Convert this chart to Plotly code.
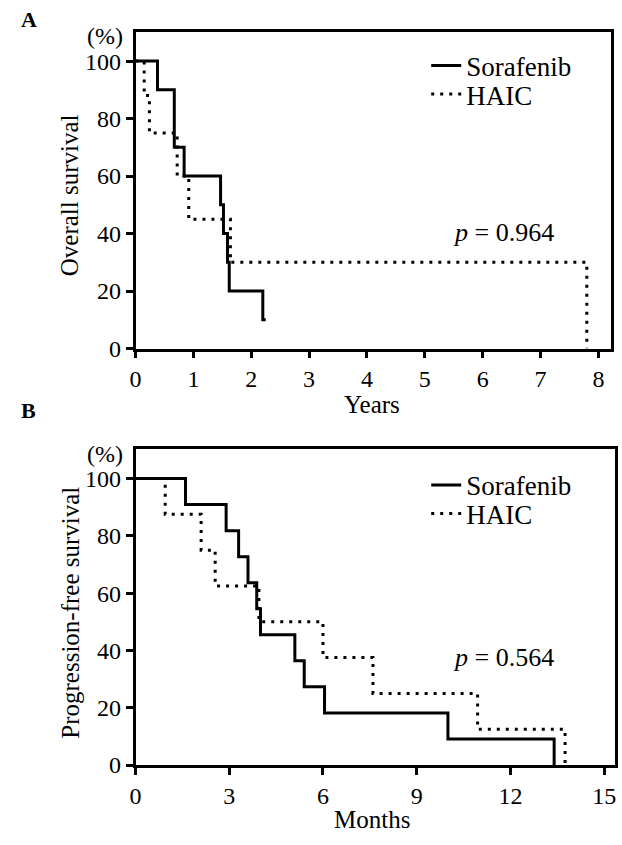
import plotly.graph_objects as go

# Panel A: overall survival (years)
a_sor_t = [0, 0.38, 0.67, 0.84, 1.47, 1.52, 1.59, 1.62, 2.2, 2.25]
a_sor_s = [100, 90, 70, 60, 50, 40, 30, 20, 10, 10]
a_haic_t = [0, 0.15, 0.24, 0.72, 0.92, 1.64, 7.8]
a_haic_s = [100, 88, 75, 60, 45, 30, 0]
a_p = "<i>p</i> = 0.964"

# Panel B: progression-free survival (months)
b_sor_t = [0, 1.6, 2.9, 3.3, 3.6, 3.88, 4.0, 5.1, 5.4, 6.05, 10.0, 13.4]
b_sor_s = [100, 90.9, 81.8, 72.7, 63.6, 54.5, 45.5, 36.4, 27.3, 18.2, 9.1, 0]
b_haic_t = [0, 0.95, 2.1, 2.55, 3.95, 6.0, 7.6, 10.95, 13.75]
b_haic_s = [100, 87.5, 75, 62.5, 50, 37.5, 25, 12.5, 0]
b_p = "<i>p</i> = 0.564"

a_xticks = list(range(0, 9))
b_xticks = list(range(0, 16, 3))
yticks = list(range(0, 101, 20))

FONT = "Liberation Serif"
W, H = 622, 845

def px(x):
    return x / W

def py(y):
    return 1 - y / H

fig = go.Figure()
solid = dict(color="black", width=3)
dotted = dict(color="black", width=3, dash="3px,6px")

fig.add_trace(go.Scatter(x=a_sor_t, y=a_sor_s, mode="lines", line=solid, line_shape="hv",
                         name="Sorafenib", xaxis="x", yaxis="y", legend="legend", showlegend=True))
fig.add_trace(go.Scatter(x=a_haic_t, y=a_haic_s, mode="lines", line=dotted, line_shape="hv",
                         name="HAIC", xaxis="x", yaxis="y", legend="legend2", showlegend=True))
fig.add_trace(go.Scatter(x=b_sor_t, y=b_sor_s, mode="lines", line=solid, line_shape="hv",
                         name="Sorafenib", xaxis="x2", yaxis="y2", legend="legend3", showlegend=True))
fig.add_trace(go.Scatter(x=b_haic_t, y=b_haic_s, mode="lines", line=dotted, line_shape="hv",
                         name="HAIC", xaxis="x2", yaxis="y2", legend="legend4", showlegend=True))

axis_common = dict(showline=True, linecolor="black", linewidth=2.5, mirror=True,
                   ticks="outside", ticklen=7, tickwidth=2.5, tickcolor="black",
                   showgrid=False, zeroline=False,
                   tickfont=dict(family=FONT, size=24, color="black"))

def leg(ycenter):
    return dict(x=px(425), y=py(ycenter), xanchor="left", yanchor="middle",
                bgcolor="rgba(0,0,0,0)", font=dict(family=FONT, size=27, color="black"),
                borderwidth=0, visible=True)

fig.update_layout(
    width=W, height=H,
    margin=dict(l=0, r=0, t=0, b=0),
    paper_bgcolor="white", plot_bgcolor="white",
    showlegend=True,
    font=dict(family=FONT, size=24, color="black"),
    xaxis=dict(domain=[px(131), px(612)], range=[0, 8.22], tickvals=a_xticks,
               anchor="y", **axis_common),
    yaxis=dict(domain=[py(354), py(32)], range=[0, 110.3], tickvals=yticks,
               anchor="x", **axis_common),
    xaxis2=dict(domain=[px(131), px(616)], range=[0, 15.35], tickvals=b_xticks,
                anchor="y2", **axis_common),
    yaxis2=dict(domain=[py(777), py(456)], range=[0, 110.3], tickvals=yticks,
                anchor="x2", **axis_common),
    legend=leg(67),
    legend2=leg(96),
    legend3=leg(493),
    legend4=leg(522),
)

def txt(text, x, y, size, xanchor="center", angle=0, xref="paper", yref="paper"):
    return dict(text=text, x=x, y=y, xref=xref, yref=yref, xanchor=xanchor,
                yanchor="middle", showarrow=False, textangle=angle,
                font=dict(family=FONT, size=size, color="black"))

annos = [
    txt("<b>A</b>", px(13), py(20), 22, xanchor="left"),
    txt("<b>B</b>", px(13), py(417), 22, xanchor="left"),
    txt("(%)", px(120), py(37), 24, xanchor="right"),
    txt("(%)", px(120), py(461), 24, xanchor="right"),
    txt("Overall survival", px(65), py(198), 25, angle=-90),
    txt("Years", px(370), py(411), 25),
    txt("Progression-free survival", px(65), py(622), 25, angle=-90),
    txt("Months", px(370), py(832), 25),
    txt(a_p, 5.45, 40.5, 26, xanchor="left", xref="x", yref="y"),
    txt(b_p, 10.1, 37.5, 26, xanchor="left", xref="x2", yref="y2"),
]
fig.update_layout(annotations=annos)

fig.write_html("out.html")
